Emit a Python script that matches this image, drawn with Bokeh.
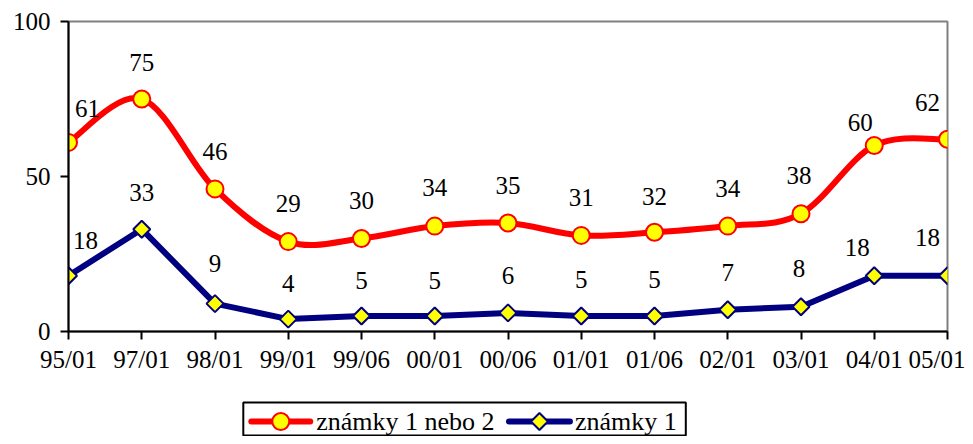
import numpy as np
from bokeh.plotting import figure
from bokeh.layouts import column
from bokeh.models import Range1d, FixedTicker
from bokeh.core.properties import value
from bokeh.embed import file_html
from bokeh.resources import INLINE

# ---- data ----
periods = ["95/01", "97/01", "98/01", "99/01", "99/06", "00/01", "00/06",
           "01/01", "01/06", "02/01", "03/01", "04/01", "05/01"]
grade_1_or_2 = [61, 75, 46, 29, 30, 34, 35, 31, 32, 34, 38, 60, 62]
grade_1 = [18, 33, 9, 4, 5, 5, 6, 5, 5, 7, 8, 18, 18]
y_ticks = [0, 50, 100]
series_names = ["známky 1 nebo 2", "známky 1"]

# ---- styles ----
FONT = "'Liberation Serif', 'Times New Roman', serif"
RED = "#FF0000"
NAVY = "#000080"
YELLOW = "#FFFF00"
FS = "25px"

xs = list(range(len(periods)))

p = figure(width=965, height=392, output_backend="svg", toolbar_location=None,
           x_range=Range1d(0, len(periods) - 1), y_range=Range1d(0, 100),
           min_border_left=68, min_border_right=18, min_border_top=21,
           min_border_bottom=61)
p.xgrid.visible = False
p.ygrid.visible = False
p.outline_line_color = "#808080"
p.outline_line_width = 2
p.background_fill_color = "white"
p.border_fill_color = "white"

# smoothed red series (Catmull-Rom -> cubic Bezier segments)
def bezier_segments(xv, yv):
    X = np.array(xv, float)
    Y = np.array(yv, float)
    n = len(X)
    out = {k: [] for k in ("x0", "y0", "x1", "y1", "cx0", "cy0", "cx1", "cy1")}
    for i in range(n - 1):
        a = max(i - 1, 0)
        d = min(i + 2, n - 1)
        out["x0"].append(X[i]); out["y0"].append(Y[i])
        out["x1"].append(X[i + 1]); out["y1"].append(Y[i + 1])
        out["cx0"].append(X[i] + (X[i + 1] - X[a]) / 6)
        out["cy0"].append(Y[i] + (Y[i + 1] - Y[a]) / 6)
        out["cx1"].append(X[i + 1] - (X[d] - X[i]) / 6)
        out["cy1"].append(Y[i + 1] - (Y[d] - Y[i]) / 6)
    return out

seg = bezier_segments(xs, grade_1_or_2)
p.bezier(**seg, line_color=RED, line_width=6, line_cap="round")
p.line(xs, grade_1, line_color=NAVY, line_width=6, line_join="round")

p.scatter(xs, grade_1_or_2, marker="circle", size=17, fill_color=YELLOW,
          line_color=RED, line_width=2)
p.scatter(xs, grade_1, marker="square", size=12, angle=np.pi / 4,
          fill_color=YELLOW, line_color=NAVY, line_width=2)

# data labels
red_dx = [19, 0, 0, 0, 0, 0, 0, 0, 0, 0, -2, -14, -20]
red_dy = [-34, -37, -37, -38, -38, -39, -38, -38, -36, -38, -38, -23, -37]
blue_dx = [17, 0, 0, 0, 0, 0, 0, 0, 0, 0, -2, -17, -20]
blue_dy = [-35, -37, -40, -36, -36, -36, -37, -37, -37, -37, -38, -28, -38]

p.text(xs, grade_1_or_2, text=[str(v) for v in grade_1_or_2],
       x_offset=red_dx, y_offset=red_dy, text_font=value(FONT),
       text_font_size=FS, text_align="center", text_baseline="middle",
       text_color="black")
p.text(xs, grade_1, text=[str(v) for v in grade_1],
       x_offset=blue_dx, y_offset=blue_dy, text_font=value(FONT),
       text_font_size=FS, text_align="center", text_baseline="middle",
       text_color="black")

# axes
for ax in (p.xaxis, p.yaxis):
    ax.axis_line_color = "black"
    ax.axis_line_width = 2
    ax.major_tick_line_color = "black"
    ax.major_tick_line_width = 2
    ax.major_tick_in = 0
    ax.major_tick_out = 8
    ax.minor_tick_line_color = None
    ax.major_label_text_font = FONT
    ax.major_label_text_font_size = FS
    ax.major_label_text_color = "black"

p.yaxis.ticker = FixedTicker(ticks=y_ticks)
p.yaxis.major_label_standoff = 10
p.xaxis.ticker = FixedTicker(ticks=xs)
p.xaxis.major_label_overrides = {i: lab for i, lab in enumerate(periods)}
p.xaxis.major_label_standoff = 6

# ---- legend strip: a small figure in pixel units, drawn below the chart ----
# (the column aligns this strip's frame with the chart frame, roughly x 70..950)
LW, LH = 965, 44
lg = figure(width=LW, height=LH, output_backend="svg", toolbar_location=None,
            x_axis_type=None, y_axis_type=None, min_border=0,
            min_border_left=0, min_border_right=0, min_border_top=0,
            min_border_bottom=0,
            x_range=Range1d(70, 950), y_range=Range1d(0, LH))
lg.xgrid.visible = False
lg.ygrid.visible = False
lg.outline_line_color = None
lg.background_fill_color = "white"
lg.border_fill_color = "white"

# legend box
lg.quad(left=[245], right=[688], bottom=[1], top=[34], fill_color="white",
        line_color="black", line_width=2)
yc = 15
# item 1
lg.segment(x0=[253], y0=[yc], x1=[312], y1=[yc], line_color=RED, line_width=6,
           line_cap="round")
lg.scatter([282.5], [yc], marker="circle", size=17, fill_color=YELLOW,
           line_color=RED, line_width=2)
# item 2
lg.segment(x0=[511], y0=[yc], x1=[572], y1=[yc], line_color=NAVY, line_width=6,
           line_cap="round")
lg.scatter([541.5], [yc], marker="square", size=12, angle=np.pi / 4,
           fill_color=YELLOW, line_color=NAVY, line_width=2)
lg.text([318, 577], [yc, yc], text=series_names, text_font=value(FONT),
        text_font_size="26px", text_align="left", text_baseline="middle",
        text_color="black")

layout = column(p, lg, spacing=0)
open("out.html", "w").write(file_html(layout, INLINE))
